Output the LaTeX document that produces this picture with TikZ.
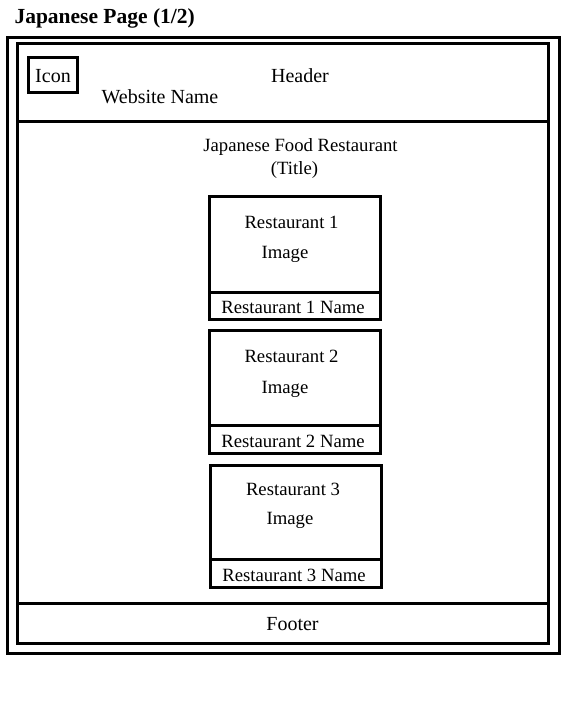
\documentclass[tikz,border=0pt]{standalone}
\usepackage{fontspec}
\setmainfont{Liberation Serif}
\begin{document}
\begin{tikzpicture}[x=1pt, y=-1pt, line width=3pt,
    big/.style={font=\fontsize{20}{24}\selectfont, inner sep=0pt, anchor=base},
    small/.style={font=\fontsize{18.7}{22}\selectfont, inner sep=0pt, anchor=base}]
    \useasboundingbox (0,0) rectangle (575,702);
    \node[font=\fontsize{21.5}{26}\selectfont\bfseries, inner sep=0pt, anchor=base west] (pagetitle) at (13,23) {Japanese Page (1/2)};
    % frames
    \draw (7.5,37.5) rectangle (559.5,653.5);
    \draw (17.5,43.5) rectangle (548.5,643.5);
    \draw (17.5,121.5) -- (548.5,121.5);
    \draw (17.5,603.5) -- (548.5,603.5);
    \draw (28.5,57.5) rectangle (77.2,92.8);
    % header
    \node[big] (icon) at (53,82) {Icon};
    \node[big] (header) at (300,82) {Header};
    \node[big] (website) at (160,103) {Website Name};
    \node[small] (restaurant) at (300.5,151) {Japanese Food Restaurant};
    \node[small] (title) at (294.5,174) {(Title)};
    % restaurants
    \foreach \i/\l/\r/\t/\m/\b/\xa/\xb/\xc/\ya/\yb/\yc in {
        1/209.8/380.2/196.8/292.3/319.8/291.5/285/293/228/258/313,
        2/209.8/380.2/330.8/425.8/453.8/291.5/285/293/362/393/447,
        3/210.8/381.2/465/559.2/587.2/293/290/294/495/524/581}{
        \draw (\l,\t) rectangle (\r,\b);
        \draw (\l,\m) -- (\r,\m);
        \node[small] (rest\i) at (\xa,\ya) {Restaurant \i};
        \node[small] (img\i) at (\xb,\yb) {Image};
        \node[small] (name\i) at (\xc,\yc) {Restaurant \i{} Name};
    }
    \node[big] (footer) at (292.5,630) {Footer};
\end{tikzpicture}
\end{document}
